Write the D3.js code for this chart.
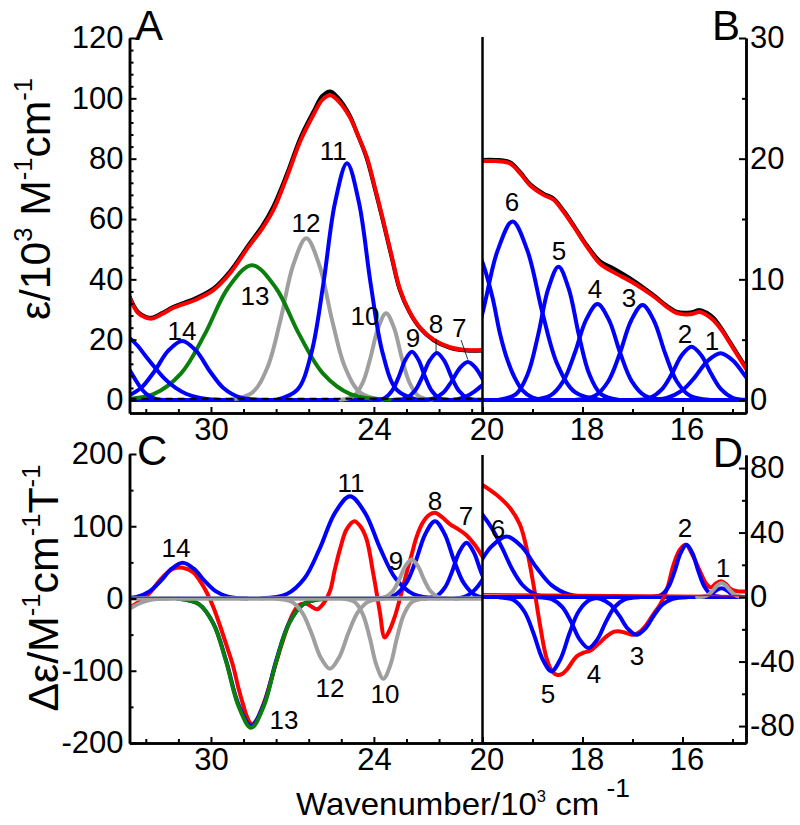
<!DOCTYPE html>
<html><head><meta charset="utf-8">
<script src="https://cdn.jsdelivr.net/npm/d3@7"></script>
<style>body{margin:0;background:#fff} svg{display:block}</style>
</head><body><svg id="c" width="800" height="825"></svg>
<script>
// ---------- tick values ----------
const xMajorLeft = [30, 24];
const xMinorLeft = [32.4, 31.2, 28.8, 27.6, 26.4, 25.2, 22.8, 21.6, 20.4];
const xMajorRight = [20, 18, 16];
const xMinorRight = [19, 17, 15];
const yMajorA = [0, 20, 40, 60, 80, 100, 120];
const yMinorA = [4, 8, 12, 16, 24, 28, 32, 36, 44, 48, 52, 56, 64, 68, 72, 76, 84, 88, 92, 96, 104, 108, 112, 116];
const yMajorB = [0, 10, 20, 30];
const yMinorB = [5, 15, 25];
const yMajorC = [-200, -100, 0, 100, 200];
const yMinorC = [-150, -50, 50, 150];
const yMajorD = [-80, -40, 0, 40, 80];
const yMinorD = [-60, -20, 20, 60];

// ---------- Panel A (absorption, 33-20 x10^3 cm-1) ----------
const A_x1 = [[33.0,20.6],[32.7,18],[32.4,14.5],[32.05,10.6],[31.7,7],[31.3,4],[30.9,2],[30.4,0.7],[29.8,0.1],[29.2,0]];
const A_x2 = [[33.0,10],[32.8,7],[32.6,4.2],[32.4,2.2],[32.2,1],[32.0,0.3],[31.7,0]];
const A_b14 = [[33.185,0.86],[32.59,3.88],[32.08,9.55],[31.57,16.37],[31.06,19.6],[30.55,16.37],[30.04,9.55],[29.53,3.88],[28.935,0.86],[28.085,0.04]];
const A_g13 = [[33.565,0.09],[32.115,1.97],[31.1,8.85],[30.23,21.77],[29.36,37.32],[28.49,44.7],[27.62,37.32],[26.75,21.77],[25.88,8.85],[24.865,1.97],[23.415,0.09]];
const A_g12 = [[29.29,0.11],[28.49,2.36],[27.93,10.61],[27.45,26.1],[26.97,44.76],[26.49,53.6],[26.01,44.76],[25.53,26.1],[25.05,10.61],[24.49,2.36],[23.69,0.11]];
const A_b11 = [[27.545,0.16],[26.815,3.45],[26.304,15.54],[25.866,38.23],[25.428,65.55],[24.99,78.5],[24.552,65.55],[24.114,38.23],[23.676,15.54],[23.165,3.45],[22.435,0.16]];
const A_g10 = [[25.23,0.06],[24.75,1.27],[24.414,5.7],[24.126,14.03],[23.838,24.05],[23.55,28.8],[23.262,24.05],[22.974,14.03],[22.686,5.7],[22.35,1.27],[21.87,0.06]];
const A_b9 = [[24.0,0.03],[23.6,0.7],[23.32,3.17],[23.08,7.79],[22.84,13.36],[22.6,16],[22.36,13.36],[22.12,7.79],[21.88,3.17],[21.6,0.7],[21.2,0.03]];
const A_b8 = [[23.255,0.03],[22.805,0.69],[22.49,3.09],[22.22,7.6],[21.95,13.03],[21.68,15.6],[21.41,13.03],[21.14,7.6],[20.87,3.09],[20.555,0.69],[20.105,0.03]];
const A_b7 = [[22.29,0.03],[21.79,0.55],[21.44,2.49],[21.14,6.14],[20.84,10.52],[20.54,12.6],[20.24,10.52],[19.94,6.14],[19.64,2.49]];
const A_b6 = [[21.3,0],[20.9,0.3],[20.6,1.2],[20.3,2.8],[20.0,5],[19.8,6.5]];
const A_red = [[33.0,34],[32.7,29],[32.4,27.3],[32.17,27],[31.8,28.5],[31.4,30.5],[31.1,31.5],[30.5,33.5],[29.9,36.5],[29.3,42],[28.6,51],[28.1,57],[27.7,63],[27.2,74],[26.7,86],[26.2,95],[25.9,99.5],[25.6,101],[25.3,99],[24.9,94],[24.6,88],[24.26,80.5],[23.95,70],[23.67,60],[23.35,48],[23.05,37],[22.7,29.5],[22.3,24],[21.8,20],[21.2,17.5],[20.6,16.6],[20.0,16.6]];
const A_black = [[33.0,34.3],[32.7,29.3],[32.4,27.6],[32.17,27.3],[31.8,28.8],[31.4,30.8],[31.1,31.9],[30.5,34],[29.9,37],[29.3,42.6],[28.6,51.6],[28.1,57.8],[27.7,64.2],[27.2,75],[26.7,87],[26.2,96],[25.9,100.8],[25.6,102.3],[25.3,100],[24.9,94.5],[24.6,88],[24.26,80],[23.95,69.5],[23.67,59.5],[23.35,47.5],[23.05,36.6],[22.7,29.3],[22.3,23.8],[21.8,19.8],[21.2,17.3],[20.6,16.4],[20.0,16.4]];
const A_zero = [[33,0],[20,0]];

// ---------- Panel B (absorption, 20-14.7) ----------
const B_b7 = [[20.2,13.2],[20.0,11.4],[19.8,8.5],[19.65,5.5],[19.5,3.3],[19.35,1.8],[19.2,0.8],[19.0,0.2],[18.8,0.02],[18.6,0]];
const B_b6 = [[21.15,0.03],[20.65,0.65],[20.3,2.93],[20.0,7.21],[19.7,12.36],[19.4,14.8],[19.1,12.36],[18.8,7.21],[18.5,2.93],[18.15,0.65],[17.65,0.03]];
const B_b5 = [[19.67,0.02],[19.33,0.49],[19.092,2.19],[18.888,5.38],[18.684,9.23],[18.48,11.05],[18.276,9.23],[18.072,5.38],[17.868,2.19],[17.63,0.49],[17.29,0.02]];
const B_b4 = [[19.03,0.02],[18.65,0.35],[18.384,1.57],[18.156,3.87],[17.928,6.64],[17.7,7.95],[17.472,6.64],[17.244,3.87],[17.016,1.57],[16.75,0.35],[16.37,0.02]];
const B_b3 = [[18.13,0.02],[17.75,0.35],[17.484,1.56],[17.256,3.83],[17.028,6.57],[16.8,7.87],[16.572,6.57],[16.344,3.83],[16.116,1.56],[15.85,0.35],[15.47,0.02]];
const B_b2 = [[16.975,0.01],[16.645,0.19],[16.414,0.88],[16.216,2.15],[16.018,3.69],[15.82,4.42],[15.622,3.69],[15.424,2.15],[15.226,0.88],[14.995,0.19],[14.665,0.01]];
const B_b1 = [[16.745,0.01],[16.315,0.17],[16.014,0.77],[15.756,1.88],[15.498,3.23],[15.24,3.87],[14.982,3.23],[14.724,1.88],[14.466,0.77]];
const B_red = [[20.0,19.8],[19.75,19.8],[19.45,19.6],[19.25,18.8],[19.05,17.8],[18.78,17.0],[18.58,16.6],[18.38,15.6],[18.18,14.4],[17.91,12.7],[17.65,11.3],[17.38,10.6],[16.98,9.7],[16.58,8.6],[16.31,7.7],[16.11,7.2],[15.85,7.1],[15.65,7.3],[15.5,7.0],[15.38,6.6],[15.2,5.7],[15.05,4.7],[14.73,2.6]];
const B_black = [[20.0,19.9],[19.75,19.9],[19.45,19.7],[19.25,18.9],[19.05,17.9],[18.78,17.1],[18.58,16.7],[18.38,15.7],[18.18,14.5],[17.91,12.8],[17.65,11.5],[17.38,10.9],[16.98,9.9],[16.58,8.7],[16.31,7.8],[16.11,7.3],[15.85,7.25],[15.65,7.45],[15.5,7.2],[15.38,6.8],[15.2,5.8],[15.05,4.8],[14.73,2.7]];
const B_zero = [[20,0],[14.73,0]];

// ---------- Panel C (MCD, 33-20) ----------
const C_gL = [[33.2,-18],[33.0,-14],[32.7,-8],[32.4,-3.5],[32.1,-1],[31.8,-0.2],[31.5,0]];
const C_b14 = [[33.42,0.1],[32.74,2.17],[32.264,9.78],[31.856,24.06],[31.448,41.25],[31.04,49.4],[30.632,41.25],[30.224,24.06],[29.816,9.78],[29.34,2.17],[28.66,0.1]];
const C_b13 = [[31.215,-0.35],[30.445,-7.74],[29.906,-34.8],[29.444,-85.7],[28.982,-147],[28.52,-176],[28.058,-147],[27.596,-85.7],[27.134,-34.8],[26.595,-7.74],[25.825,-0.35]];
const C_g13 = [[31.215,-0.36],[30.445,-7.88],[29.906,-35.44],[29.444,-87.17],[28.982,-149.5],[28.52,-179],[28.058,-149.5],[27.596,-87.17],[27.134,-35.44],[26.595,-7.88],[25.825,-0.36]];
const C_g12 = [[27.615,-0.19],[27.045,-4.28],[26.646,-19.27],[26.304,-47.39],[25.962,-81.25],[25.62,-97.3],[25.278,-81.25],[24.936,-47.39],[24.594,-19.27],[24.195,-4.28],[23.625,-0.19]];
const C_b11 = [[28.135,0.28],[27.205,6.23],[26.554,28.04],[25.996,68.96],[25.438,118.2],[24.88,141.6],[24.322,118.2],[23.764,68.96],[23.206,28.04],[22.555,6.23],[21.625,0.28]];
const C_g10 = [[25.12,-0.22],[24.7,-4.88],[24.406,-21.98],[24.154,-54.06],[23.902,-92.69],[23.65,-111],[23.398,-92.69],[23.146,-54.06],[22.894,-21.98],[22.6,-4.88],[22.18,-0.22]];
const C_g9 = [[23.94,0.11],[23.56,2.38],[23.294,10.69],[23.066,26.3],[22.838,45.09],[22.61,54],[22.382,45.09],[22.154,26.3],[21.926,10.69],[21.66,2.38],[21.28,0.11]];
const C_b8 = [[23.815,0.21],[23.225,4.71],[22.812,21.19],[22.458,52.11],[22.104,89.35],[21.75,107],[21.396,89.35],[21.042,52.11],[20.688,21.19],[20.275,4.71],[19.685,0.21]];
const C_b7 = [[22.13,0.15],[21.69,3.39],[21.382,15.25],[21.118,37.5],[20.854,64.3],[20.59,77],[20.326,64.3],[20.062,37.5],[19.798,15.25]];
const C_b6 = [[21.0,0],[20.7,2],[20.4,8],[20.15,18],[20.0,26],[19.9,32]];
const C_red = [[33.0,-12.9],[32.75,-7],[32.5,-1.4],[32.2,10],[31.87,26],[31.6,36],[31.38,41.5],[31.04,42.5],[30.65,36],[30.4,24],[30.15,8],[29.9,-13],[29.66,-38.4],[29.4,-68],[29.18,-94],[29.0,-122],[28.8,-149],[28.65,-166],[28.5,-174],[28.35,-170],[28.19,-158],[28.0,-139],[27.82,-117],[27.58,-86],[27.34,-57],[27.15,-36],[26.97,-20],[26.75,-9],[26.5,-7],[26.3,-11],[26.1,-15],[25.9,-9],[25.62,10],[25.45,38],[25.25,68],[25.0,96],[24.72,107],[24.5,100],[24.27,82],[24.03,36],[23.9,8],[23.78,-19],[23.6,-54],[23.4,-42],[23.22,-24],[23.04,0],[22.8,35],[22.6,62],[22.43,85],[22.2,105],[21.95,116],[21.75,118.6],[21.5,113],[21.2,103],[20.9,96],[20.6,88],[20.3,75],[20.0,58]];
const C_zero = [[33,0],[20,0]];
const C_zeroBlue = [[33,1.5],[20,1.5]];

// ---------- Panel D (MCD, 20-14.7) ----------
const D_b7 = [[20.2,58],[20.0,51],[19.8,42],[19.6,30],[19.4,17],[19.2,7.5],[19.0,2.5],[18.8,0.5],[18.6,0]];
const D_b6 = [[21.27,0.08],[20.77,1.65],[20.42,7.44],[20.12,18.3],[19.82,31.4],[19.52,37.6],[19.22,31.4],[18.92,18.3],[18.62,7.44],[18.27,1.65],[17.77,0.08]];
const D_b5 = [[19.67,-0.09],[19.37,-2.02],[19.16,-9.11],[18.98,-22.4],[18.8,-38.41],[18.62,-46],[18.44,-38.41],[18.26,-22.4],[18.08,-9.11],[17.87,-2.02],[17.57,-0.09]];
const D_b4 = [[18.895,-0.06],[18.605,-1.39],[18.402,-6.26],[18.228,-15.39],[18.054,-26.39],[17.88,-31.6],[17.706,-26.39],[17.532,-15.39],[17.358,-6.26],[17.155,-1.39],[16.865,-0.06]];
const D_b3 = [[17.935,-0.05],[17.645,-1.03],[17.442,-4.63],[17.268,-11.4],[17.094,-19.54],[16.92,-23.4],[16.746,-19.54],[16.572,-11.4],[16.398,-4.63],[16.195,-1.03],[15.905,-0.05]];
const D_b2 = [[16.62,0.06],[16.42,1.43],[16.28,6.42],[16.16,15.78],[16.04,27.05],[15.92,32.4],[15.8,27.05],[15.68,15.78],[15.56,6.42],[15.42,1.43],[15.22,0.06]];
const D_b1 = [[15.71,0.01],[15.57,0.24],[15.472,1.09],[15.388,2.68],[15.304,4.59],[15.22,5.5],[15.136,4.59],[15.052,2.68],[14.968,1.09],[14.87,0.24],[14.73,0.01]];
const D_g1 = [[15.71,0.02],[15.57,0.38],[15.472,1.72],[15.388,4.24],[15.304,7.26],[15.22,8.7],[15.136,7.26],[15.052,4.24],[14.968,1.72],[14.87,0.38],[14.73,0.02]];
const D_red = [[20.0,69.6],[19.72,63.4],[19.45,55.2],[19.25,44.8],[19.12,30.4],[18.98,7.6],[18.85,-17.2],[18.72,-37.8],[18.6,-46.5],[18.5,-48.3],[18.4,-47.5],[18.3,-44.5],[18.12,-36.8],[17.98,-34.5],[17.85,-33.3],[17.68,-29],[17.52,-24.4],[17.38,-21.6],[17.25,-21.3],[17.1,-22.5],[16.98,-23.4],[16.85,-21.5],[16.72,-17.2],[16.58,-10.5],[16.45,-4.8],[16.3,6],[16.18,20],[16.05,29.5],[15.93,32.4],[15.8,26],[15.65,15.9],[15.52,8],[15.43,6],[15.33,8.5],[15.23,9.8],[15.13,8],[15.03,4.8],[14.9,3.6],[14.73,3.5]];
const D_zero = [[20,0],[14.73,0]];
const D_zeroRed = [[20,2],[14.73,0.8]];

// ---------- band labels [text, wavenumber, value] ----------
const labA = [["14",31.07,19.9],["13",28.38,31.5],["12",26.5,55.7],["11",25.5,79.5],["10",24.33,24.9],["9",22.56,17.6],["8",21.71,22.2],["7",20.86,20.9]];
const labB = [["6",19.41,15.66],["5",18.47,11.6],["4",17.75,8.45],["3",17.07,7.7],["2",15.95,4.72],["1",15.41,4.14]];
const labC = [["14",31.29,57.4],["13",27.31,-180.6],["12",25.62,-136],["11",24.84,147.4],["10",23.59,-144.6],["9",23.19,39.4],["8",21.75,122.5],["7",20.61,101.7]];
const labD = [["6",19.69,36.6],["5",18.69,-65.7],["4",17.77,-53.3],["3",16.91,-42.2],["2",15.95,37.2],["1",15.19,12.4]];
const leadA = [[21.71,20.3,21.71,15.4],[20.79,19.9,20.54,13.4]];

// ---------- drawing ----------
const FONT = '"Liberation Sans", Arial, Helvetica, sans-serif';
const BLUE = "#0000ff", RED = "#ff0000", GREEN = "#0b7f0b", GRAY = "#9f9f9f", BLACK = "#000000";
const svg = d3.select("#c");

const xL = d3.scaleLinear().domain([33, 20]).range([129.5, 482.5]);
const xR = d3.scaleLinear().domain([20, 14.73]).range([482.5, 746]);
const yA = d3.scaleLinear().domain([-4.3, 120]).range([413, 38]);
const yB = d3.scaleLinear().domain([-1.075, 30]).range([413, 38]);
const yC = d3.scaleLinear().domain([-200, 200]).range([743, 454]);
const yD = d3.scaleLinear().domain([-90.5, 88.1]).range([743, 455]);

const defs = svg.append("defs");
function clip(id, xs, y0, y1) {
  const r = xs.range();
  defs.append("clipPath").attr("id", id).append("rect")
    .attr("x", Math.min(r[0], r[1])).attr("y", y0)
    .attr("width", Math.abs(r[1] - r[0])).attr("height", y1 - y0);
  return svg.append("g").attr("clip-path", `url(#${id})`);
}
const gA = clip("cA", xL, 20, yA.range()[0]);
const gB = clip("cB", xR, 20, yB.range()[0]);
const gC = clip("cC", xL, 440, yC.range()[0]);
const gD = clip("cD", xR, 440, yD.range()[0]);

function curve(g, data, xs, ys, color, w, dash, op) {
  g.append("path").datum(data)
    .attr("fill", "none").attr("stroke", color).attr("stroke-width", w)
    .attr("stroke-linejoin", "round").attr("stroke-linecap", dash ? "butt" : "round")
    .attr("stroke-dasharray", dash || null).attr("opacity", op || 1)
    .attr("d", d3.line().x(d => xs(d[0])).y(d => ys(d[1])).curve(d3.curveCatmullRom.alpha(0.5)));
}
const LW = 4;

// Panel A
curve(gA, A_zero, xL, yA, BLUE, LW);
[A_g12, A_g10].forEach(d => curve(gA, d, xL, yA, GRAY, LW));
curve(gA, A_g13, xL, yA, GREEN, LW);
[A_x1, A_x2, A_b14, A_b11, A_b9, A_b8, A_b7, A_b6].forEach(d => curve(gA, d, xL, yA, BLUE, LW));
curve(gA, [[33, 0.4], [20, 0.4]], xL, yA, BLACK, 2, "7,5");
curve(gA, A_black, xL, yA, BLACK, LW);
curve(gA, A_red, xL, yA, RED, LW);

// Panel B
curve(gB, B_zero, xR, yB, BLUE, LW);
[B_b7, B_b6, B_b5, B_b4, B_b3, B_b2, B_b1].forEach(d => curve(gB, d, xR, yB, BLUE, LW));
curve(gB, B_black, xR, yB, BLACK, LW);
curve(gB, B_red, xR, yB, RED, LW);

// Panel C
curve(gC, C_red, xL, yC, RED, LW);
[C_b14, C_b13, C_b11, C_b8, C_b7, C_b6].forEach(d => curve(gC, d, xL, yC, BLUE, LW));
curve(gC, C_g13, xL, yC, GREEN, LW);
[C_gL, C_g12, C_g10, C_g9].forEach(d => curve(gC, d, xL, yC, GRAY, LW));
curve(gC, C_zero, xL, yC, GRAY, 4.5);
curve(gC, C_zeroBlue, xL, yC, BLUE, 1.2, null, 0.6);

// Panel D
curve(gD, D_zero, xR, yD, BLUE, LW);
curve(gD, D_red, xR, yD, RED, LW);
[D_b7, D_b6, D_b5, D_b4, D_b3, D_b2, D_b1].forEach(d => curve(gD, d, xR, yD, BLUE, LW));
curve(gD, D_g1, xR, yD, GRAY, LW);
curve(gD, D_zeroRed, xR, yD, RED, 1.5);

// ---------- axes ----------
function styleAxis(g, fs) {
  g.attr("font-family", FONT).attr("font-size", fs);
  g.select(".domain").attr("stroke-width", 2.5).attr("stroke", "#000");
  g.selectAll(".tick line").attr("stroke-width", 2).attr("stroke", "#000");
  g.selectAll(".tick text").attr("fill", "#000");
  return g;
}
const fmt = d => String(d);
const TF = 31;
function yAxisPair(x, scale, major, minor, left) {
  const mk = left ? d3.axisLeft : d3.axisRight;
  styleAxis(svg.append("g").attr("transform", `translate(${x},0)`)
    .call(mk(scale).tickValues(minor).tickSizeInner(-4).tickSizeOuter(0).tickFormat("")), TF);
  styleAxis(svg.append("g").attr("transform", `translate(${x},0)`)
    .call(mk(scale).tickValues(major).tickSizeInner(-7).tickSizeOuter(0).tickPadding(left ? 6 : 4).tickFormat(fmt)), TF);
}
yAxisPair(xL.range()[0], yA, yMajorA, yMinorA, true);
yAxisPair(xR.range()[1], yB, yMajorB, yMinorB, false);
yAxisPair(xL.range()[0], yC, yMajorC, yMinorC, true);
yAxisPair(xR.range()[1], yD, yMajorD, yMinorD, false);

function xAxes(y) {
  styleAxis(svg.append("g").attr("transform", `translate(0,${y})`)
    .call(d3.axisBottom(xL).tickValues(xMinorLeft).tickSizeInner(-4).tickSizeOuter(0).tickFormat("")), TF);
  styleAxis(svg.append("g").attr("transform", `translate(0,${y})`)
    .call(d3.axisBottom(xL).tickValues(xMajorLeft).tickSizeInner(-6).tickSizeOuter(0).tickPadding(5).tickFormat(fmt)), TF);
  styleAxis(svg.append("g").attr("transform", `translate(0,${y})`)
    .call(d3.axisBottom(xR).tickValues(xMinorRight).tickSizeInner(-4).tickSizeOuter(0).tickFormat("")), TF);
  const gr = styleAxis(svg.append("g").attr("transform", `translate(0,${y})`)
    .call(d3.axisBottom(xR).tickValues(xMajorRight).tickSizeInner(-6).tickSizeOuter(0).tickPadding(5).tickFormat(fmt)), TF);
  gr.selectAll(".tick text").attr("dx", 4);
}
xAxes(yA.range()[0]);
xAxes(yC.range()[0]);

// break lines
svg.append("line").attr("x1", xL(20)).attr("x2", xL(20)).attr("y1", 37).attr("y2", yA.range()[0])
  .attr("stroke", "#000").attr("stroke-width", 2.5);
svg.append("line").attr("x1", xL(20)).attr("x2", xL(20)).attr("y1", 455).attr("y2", yC.range()[0])
  .attr("stroke", "#000").attr("stroke-width", 2.5);

// ---------- band labels ----------
function labels(arr, xs, ys) {
  arr.forEach(([t, v, val]) => {
    svg.append("text").attr("x", xs(v)).attr("y", ys(val)).attr("text-anchor", "middle")
      .attr("font-family", FONT).attr("font-size", 26).attr("fill", "#000").text(t);
  });
}
labels(labA, xL, yA); labels(labB, xR, yB); labels(labC, xL, yC); labels(labD, xR, yD);
leadA.forEach(([v1, a1, v2, a2]) => {
  svg.append("line").attr("x1", xL(v1)).attr("y1", yA(a1)).attr("x2", xL(v2)).attr("y2", yA(a2))
    .attr("stroke", "#000").attr("stroke-width", 0.8);
});

// ---------- panel letters ----------
[["A", 135, 40, "start"], ["B", 740, 40, "end"], ["C", 137, 465, "start"], ["D", 743, 467, "end"]]
  .forEach(([t, x, y, a]) => svg.append("text").attr("x", x).attr("y", y).attr("text-anchor", a)
    .attr("font-family", FONT).attr("font-size", 42).attr("fill", "#000").text(t));

// ---------- axis titles ----------
function rich(parts, fs, cx, cy, rot, target) {
  const g = svg.append("g");
  const t = g.append("text").attr("font-family", FONT).attr("font-size", fs).attr("fill", "#000")
    .attr("text-anchor", "middle");
  let shift = 0;
  parts.forEach(p => {
    const sp = t.append("tspan").text(p[0]);
    const s = p[1] || 0, sz = p[2] || 1;
    sp.attr("font-size", fs * sz).attr("dy", (-s - (-shift)) * fs);
    shift = s;
  });
  const len = t.node().getComputedTextLength();
  const k = target / len;
  g.attr("transform", `translate(${cx},${cy}) rotate(${rot}) scale(${k},1)`);
}
rich([["ε/10"], ["3", 0.42, 0.6], [" M", 0], ["-1", 0.42, 0.6], ["cm", 0], ["-1", 0.42, 0.6]], 42, 50, 199, -90, 242);
rich([["Δε/M"], ["-1", 0.42, 0.6], ["cm", 0], ["-1", 0.42, 0.6], ["T", 0], ["-1", 0.42, 0.6]], 42, 58, 588, -90, 247);
rich([["Wavenumber/10"], ["3", 0.4, 0.5], [" cm", 0], [" -1", 0.55, 0.8]], 32, 463, 815, 0, 334);
</script></body></html>
